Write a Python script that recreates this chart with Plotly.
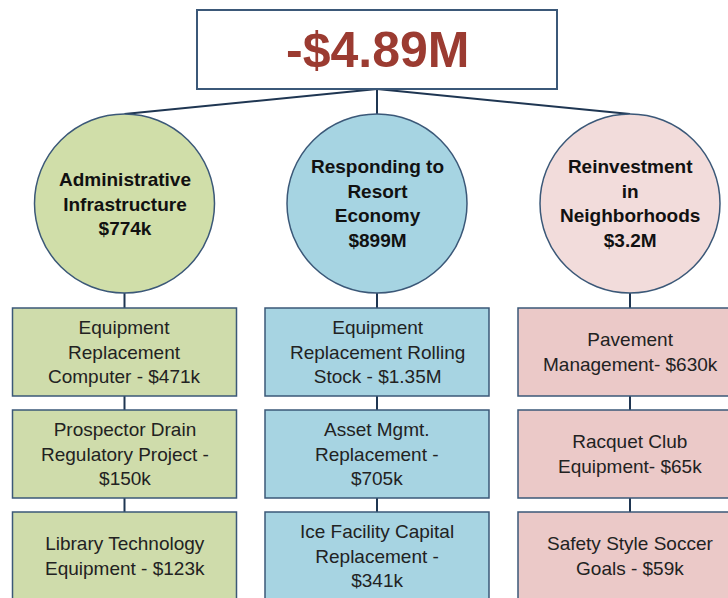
import plotly.graph_objects as go

# ---------------- data ----------------
total_label = "-$4.89M"
categories = [
    "Administrative<br>Infrastructure",
    "Responding to<br>Resort<br>Economy",
    "Reinvestment<br>in<br>Neighborhoods",
]
category_totals = ["$774k", "$899M", "$3.2M"]
admin_projects = [
    "Equipment<br>Replacement<br>Computer - $471k",
    "Prospector Drain<br>Regulatory Project -<br>$150k",
    "Library Technology<br>Equipment - $123k",
]
resort_projects = [
    "Equipment<br>Replacement Rolling<br>Stock - $1.35M",
    "Asset Mgmt.<br>Replacement -<br>$705k",
    "Ice Facility Capital<br>Replacement -<br>$341k",
]
neighborhood_projects = [
    "Pavement<br>Management- $630k",
    "Racquet Club<br>Equipment- $65k",
    "Safety Style Soccer<br>Goals - $59k",
]
project_lists = [admin_projects, resort_projects, neighborhood_projects]

# ---------------- style / layout ----------------
W, H = 728, 598
col_centers = [124.5, 377, 630]
ellipse_fill = ["#d0dea9", "#a6d4e2", "#f2dcdb"]
box_fill = ["#cfdcab", "#a7d4e2", "#ebc9c8"]
edge = "#3b5878"
conn = "#1f3652"
font_fam = "Liberation Sans, Arial, sans-serif"

top_box = dict(x0=197, x1=557, y0=10, y1=89)
ell_rx, ell_top, ell_bot = 90, 114, 293
box_w = 224
box_rows = [(308, 396), (410, 498), (512, 600)]

shapes = []
annotations = []

for cx in col_centers:
    shapes.append(dict(type="line", xref="x", yref="y", x0=377, y0=89, x1=cx, y1=ell_top,
                       line=dict(color=conn, width=2)))
    shapes.append(dict(type="line", xref="x", yref="y", x0=cx, y0=ell_bot, x1=cx, y1=box_rows[-1][0],
                       line=dict(color=conn, width=2)))

shapes.append(dict(type="rect", xref="x", yref="y", **top_box, fillcolor="white",
                   line=dict(color=edge, width=2)))
annotations.append(dict(x=(top_box["x0"] + top_box["x1"]) / 2, y=(top_box["y0"] + top_box["y1"]) / 2,
                        xref="x", yref="y", text="<b>" + total_label + "</b>", showarrow=False,
                        xanchor="center", yanchor="middle",
                        font=dict(family=font_fam, size=50, color="#9b3b31")))

for i, cx in enumerate(col_centers):
    shapes.append(dict(type="circle", xref="x", yref="y", x0=cx - ell_rx, x1=cx + ell_rx,
                       y0=ell_top, y1=ell_bot, fillcolor=ellipse_fill[i],
                       line=dict(color=edge, width=1.5)))
    annotations.append(dict(x=cx, y=(ell_top + ell_bot) / 2, xref="x", yref="y",
                            text="<b>" + categories[i] + "<br>" + category_totals[i] + "</b>",
                            showarrow=False, xanchor="center", yanchor="middle",
                            font=dict(family=font_fam, size=19, color="#111111")))
    for j, (y0, y1) in enumerate(box_rows):
        shapes.append(dict(type="rect", xref="x", yref="y", x0=cx - box_w / 2, x1=cx + box_w / 2,
                           y0=y0, y1=y1, fillcolor=box_fill[i],
                           line=dict(color=edge, width=1.5)))
        annotations.append(dict(x=cx, y=(y0 + y1) / 2, xref="x", yref="y",
                                text=project_lists[i][j], showarrow=False,
                                xanchor="center", yanchor="middle",
                                font=dict(family=font_fam, size=19, color="#222222")))

fig = go.Figure(go.Scatter(x=[], y=[], showlegend=False))
fig.update_layout(
    width=W, height=H,
    margin=dict(l=0, r=0, t=0, b=0),
    paper_bgcolor="white", plot_bgcolor="white",
    xaxis=dict(range=[0, W], visible=False, fixedrange=True),
    yaxis=dict(range=[H, 0], visible=False, fixedrange=True),
    shapes=shapes, annotations=annotations,
    showlegend=False,
)
fig.write_html(
    "out.html",
    config={"displayModeBar": False},
    post_script="document.body.style.margin='0';document.body.style.overflow='hidden';",
)
